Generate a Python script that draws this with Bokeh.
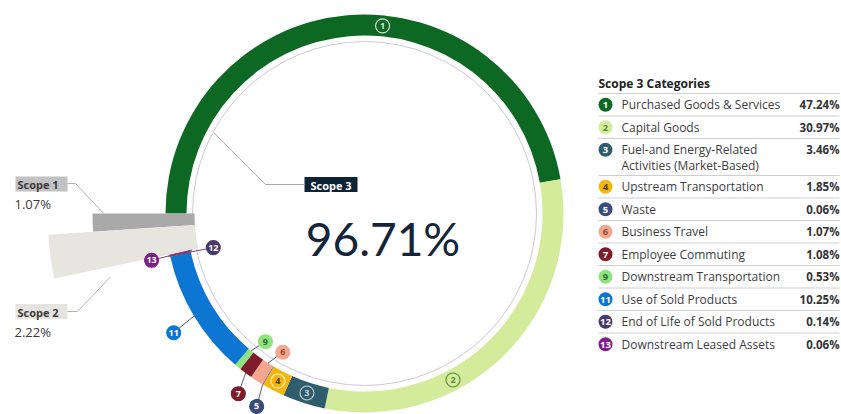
import numpy as np
from bokeh.plotting import figure
from bokeh.models import Range1d
from bokeh.core.properties import value
from bokeh.embed import file_html
from bokeh.resources import INLINE

# ---------------- data ----------------
cat_ids = ["1", "2", "3", "4", "5", "6", "7", "9", "11", "12", "13"]
cat_names = ["Purchased Goods & Services", "Capital Goods",
             "Fuel-and Energy-Related\nActivities (Market-Based)",
             "Upstream Transportation", "Waste", "Business Travel",
             "Employee Commuting", "Downstream Transportation",
             "Use of Sold Products", "End of Life of Sold Products",
             "Downstream Leased Assets"]
cat_values = [47.24, 30.97, 3.46, 1.85, 0.06, 1.07, 1.08, 0.53, 10.25, 0.14, 0.06]
scope_names = ["Scope 1", "Scope 2", "Scope 3"]
scope_values = [1.07, 2.22, 96.71]
legend_title = "Scope 3 Categories"

# ---------------- style / layout ----------------
cat_colors = ["#0d6823", "#d4eb9c", "#2f5d6c", "#f4b70f", "#3a4d78", "#f5a68e",
              "#7e1c2b", "#8fe37f", "#0b77d3", "#4b3a6c", "#7d2187"]
num_colors = ["white", "#5b8c3a", "white", "#4d3b00", "white", "#9c4733",
              "white", "#2a6a2a", "white", "white", "white"]
scope_colors = ["#a9a9a9", "#e7e5e0"]
scope_box_colors = ["#c2c2c2", "#e6e4e0"]

W, H = 841, 414
REF_H = 414


def Y(yref):
    return REF_H - np.asarray(yref, dtype=float)


CX, CY = 364.0, float(Y(213))
R_IN, R_OUT, R_GUIDE = 178, 199, 172
FONT = value("Open Sans")

p = figure(width=W, height=H, x_range=Range1d(0, W), y_range=Range1d(0, H),
           output_backend="svg", toolbar_location=None, min_border=0)
p.axis.visible = False
p.grid.visible = False
p.outline_line_color = None
p.background_fill_color = "white"
p.border_fill_color = "white"

# angles
vals = np.array(cat_values)
cum = np.concatenate([[0.0], np.cumsum(vals)])
start_deg = 180 - cum[:-1] * 3.6
end_deg = 180 - cum[1:] * 3.6
mid_deg = (start_deg + end_deg) / 2


def pol(ang_deg, r):
    a = np.deg2rad(np.asarray(ang_deg, dtype=float))
    return CX + r * np.cos(a), CY + r * np.sin(a)


# guide circle
p.circle(x=[CX], y=[CY], radius=R_GUIDE, fill_alpha=0, line_color="#cdc9d3", line_width=1)

# scope 3 ring
p.annular_wedge(x=CX, y=CY, inner_radius=R_IN, outer_radius=R_OUT,
                start_angle=np.deg2rad(start_deg), end_angle=np.deg2rad(end_deg),
                direction="clock", fill_color=cat_colors, line_color=None)

# scope 1 / 2 wedges
s2_start = end_deg[-1]
s2_end = s2_start - scope_values[1] * 3.6
s1_start = s2_end
s1_end = s1_start - scope_values[0] * 3.6
p.annular_wedge(x=CX, y=CY, inner_radius=170, outer_radius=[272, 317],
                start_angle=np.deg2rad([s1_start, s2_start]),
                end_angle=np.deg2rad([s1_end, s2_end]),
                direction="clock", fill_color=scope_colors, line_color=None)

# ---- category number labels ----
lab_angle = [84.5, -62.0, mid_deg[2], mid_deg[3], -119.2, -120.5, -125.0, -127.7, -148.0, -167.3, -167.6]
lab_r = [188.5, 188.5, 188.5, 188.5, 221, 161, 220, 162, 225, 155, 218]
lx, ly = pol(lab_angle, np.array(lab_r))

# leaders
lead_x, lead_y, lead_c = [], [], []
for i in range(4, len(cat_ids)):
    if cat_ids[i] in ("12", "13"):
        edge = R_OUT + 2 if lab_r[i] < R_IN else R_IN - 2
        col = "#8a3a6e"
    else:
        edge = R_IN if lab_r[i] < R_IN else R_OUT
        col = "#5d6270"
    ex, ey = pol(mid_deg[i], edge)
    lead_x.append([lx[i], ex])
    lead_y.append([ly[i], ey])
    lead_c.append(col)
p.multi_line(xs=lead_x, ys=lead_y, line_color=lead_c, line_width=1)

lab_fill_alpha = [0, 0, 0] + [1] * 8
lab_line = ["#d8e8d8", "#5b8c3a", "#c3d3db", "#fff2c0"] + cat_colors[4:]
lab_text = ["#d8e8d8", "#5b8c3a", "#c3d3db"] + num_colors[3:]
p.circle(x=lx, y=ly, radius=7, fill_color=cat_colors, fill_alpha=lab_fill_alpha,
         line_color=lab_line, line_width=1.1)
p.text(x=lx, y=ly, text=cat_ids, text_font=FONT, text_font_size="9px",
       text_font_style="bold", text_align="center", text_baseline="middle",
       text_color=lab_text)

# ---- scope 3 central label ----
p.rect(x=[330.5], y=Y([184]), width=53, height=15, fill_color="#0d2235", line_color=None)
p.text(x=[330.5], y=Y([184.5]), text=[scope_names[2]], text_font=FONT, text_font_size="11px",
       text_font_style="bold", text_color="white", text_align="center", text_baseline="middle")
p.text(x=[382.5], y=Y([238]), text=[f"{scope_values[2]:.2f}%"], text_font=value("Lato"),
       text_font_size="46px", text_color="#14253a", text_align="center",
       text_baseline="alphabetic")
g3x, g3y = pol(151.8, R_GUIDE - 1)
p.line(x=[304, 265, float(g3x)], y=[float(Y(184)), float(Y(184)), float(g3y)],
       line_color="#a9a9ad", line_width=1)

# ---- scope 1 / 2 labels ----
box_y = [183.5, 311]
val_y = [203, 331]
for k in range(2):
    p.rect(x=[41], y=Y([box_y[k]]), width=52, height=15, fill_color=scope_box_colors[k],
           line_color=None)
    p.text(x=[17], y=Y([box_y[k] + 0.5]), text=[scope_names[k]], text_font=FONT,
           text_font_size="11px", text_font_style="bold", text_color="#3a3a3a",
           text_baseline="middle")
    p.text(x=[14], y=Y([val_y[k]]), text=[f"{scope_values[k]:.2f}%"], text_font=FONT,
           text_font_size="13px", text_color="#3a3a3a", text_baseline="middle")

a1x, a1y = pol(s1_end + 0.2, 260)
a2x, a2y = pol(s2_start + 2.2, 262)
p.line(x=[67, 75, float(a1x)], y=[float(Y(183)), float(Y(183)), float(a1y)],
       line_color="#b3b3b3", line_width=1)
p.line(x=[67, 77, float(a2x)], y=[float(Y(311)), float(Y(311)), float(a2y)],
       line_color="#b3b3b3", line_width=1)

# ---- legend table ----
LX0, LX1 = 598, 839
p.text(x=[LX0], y=Y([83]), text=[legend_title], text_font=FONT, text_font_size="12px",
       text_font_style="bold", text_color="#222222", text_baseline="middle")
row_h = [37.0 if "\n" in n else 22.5 for n in cat_names]
tops = 93 + np.concatenate([[0.0], np.cumsum(row_h)[:-1]])
cy_rows = tops + 11.25
p.segment(x0=LX0, x1=LX1, y0=Y(tops), y1=Y(tops), line_color="#cfcfcf", line_width=1)
p.circle(x=[605] * len(cat_ids), y=Y(cy_rows), radius=7, fill_color=cat_colors,
         line_color=None)
p.text(x=[605] * len(cat_ids), y=Y(cy_rows + 0.3), text=cat_ids, text_font=FONT,
       text_font_size="9.5px", text_font_style="bold", text_align="center",
       text_baseline="middle", text_color=num_colors)
nx, ny, nt = [], [], []
for i, n in enumerate(cat_names):
    for j, part in enumerate(n.split("\n")):
        nx.append(621)
        ny.append(cy_rows[i] + 16 * j)
        nt.append(part)
p.text(x=nx, y=Y(ny), text=nt, text_font=FONT, text_font_size="12px",
       text_color="#3d3d3d", text_baseline="middle")
p.text(x=[LX1] * len(cat_ids), y=Y(cy_rows), text=[f"{v:.2f}%" for v in cat_values],
       text_font=FONT, text_font_size="11.5px", text_font_style="bold",
       text_color="#333333", text_align="right", text_baseline="middle")

open("out.html", "w").write(file_html(p, INLINE))
